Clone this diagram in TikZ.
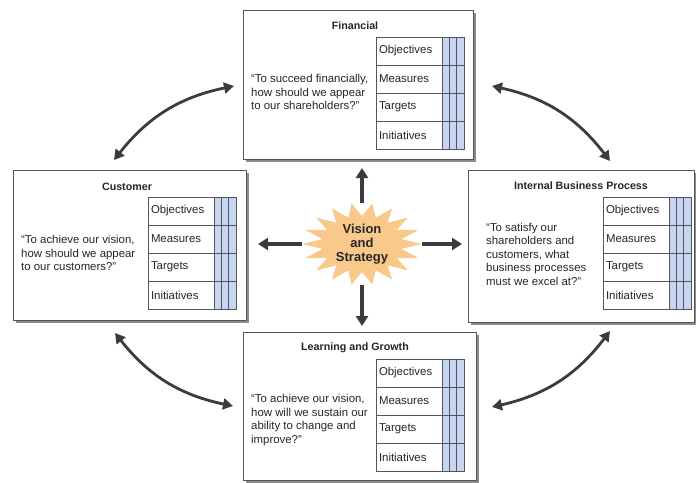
\documentclass[tikz,border=0pt]{standalone}
\usepackage{fontspec}
\setmainfont{Liberation Sans}
\usetikzlibrary{arrows.meta,shadows,calc}

\definecolor{edgegray}{HTML}{555555}
\definecolor{arrowgray}{HTML}{3C3C3C}
\definecolor{cellblue}{HTML}{C6D6F2}
\definecolor{starfill}{HTML}{F9C98C}
\definecolor{inkgray}{HTML}{262626}

\tikzset{
  panel/.style={draw=edgegray, line width=0.8pt, fill=white, inner sep=0pt, outer sep=0pt,
    drop shadow={shadow xshift=2.5pt, shadow yshift=-2.5pt, fill=black!45, opacity=1}},
  paneltitle/.style={font=\bfseries\fontsize{10.7}{12}\selectfont, text=inkgray, inner sep=0pt},
  question/.style={font=\fontsize{11.4}{13.5}\selectfont, text=inkgray, align=left, anchor=west, inner sep=0pt},
  cell/.style={draw=edgegray, line width=0.7pt, anchor=north west, text width=60pt, align=left,
    inner xsep=3pt, inner ysep=0pt, minimum height=28pt, outer sep=0pt,
    font=\fontsize{11.4}{12}\selectfont, text=inkgray},
  spoke/.style={draw=arrowgray, line width=3.6pt, -{Triangle[length=10pt,width=12pt]}},
  link/.style={draw=arrowgray, line width=2.8pt,
    {Triangle[length=10pt,width=11pt]}-{Triangle[length=10pt,width=11pt]}},
}

% Scorecard grid: #1 name prefix, #2 left x, #3 top y
\newcommand\scoregrid[3]{%
  \fill[cellblue] (#2+66,#3) rectangle (#2+88,#3+112);
  \foreach \lab [count=\i from 0] in {Objectives,Measures,Targets,Initiatives}{%
    \node[cell] (#1-\i) at (#2,#3+28*\i) {\lab};
    \draw[edgegray, line width=0.7pt] (#2+66,#3+28*\i) rectangle (#2+88,#3+28*\i+28);
  }
  \foreach \dx in {73.33,80.67}{%
    \draw[edgegray, line width=0.7pt] (#2+\dx,#3) -- (#2+\dx,#3+112);
  }
}

\begin{document}
\begin{tikzpicture}[x=1pt, y=-1pt]
\useasboundingbox (0,0) rectangle (696,482);

% the four perspective panels
\node[panel, minimum width=230pt, minimum height=149pt] (fin)  at (358,84.5) {};
\node[panel, minimum width=233pt, minimum height=150pt] (cust) at (129.5,245) {};
\node[panel, minimum width=226pt, minimum height=152pt] (cint) at (581,246) {};
\node[panel, minimum width=233pt, minimum height=148pt] (lrn)  at (359.5,406) {};

% titles
\node[paneltitle] (fin-title)  at (355,26)  {Financial};
\node[paneltitle] (cust-title) at (127,187) {Customer};
\node[paneltitle] (cint-title) at (581,186) {Internal Business Process};
\node[paneltitle] (lrn-title)  at (355,348) {Learning and Growth};

% guiding questions
\node[question] (fin-q)  at (251,92)  {``To succeed financially,\\how should we appear\\to our shareholders?''};
\node[question] (cust-q) at (21,253)  {``To achieve our vision,\\how should we appear\\to our customers?''};
\node[question] (cint-q) at (486,254) {``To satisfy our\\shareholders and\\customers, what\\business processes\\must we excel at?''};
\node[question] (lrn-q)  at (251,420) {``To achieve our vision,\\how will we sustain our\\ability to change and\\improve?''};

% objective / measure / target / initiative grids
\scoregrid{fing}{376}{37}
\scoregrid{custg}{148}{197}
\scoregrid{cintg}{603}{197}
\scoregrid{lrng}{376}{359}

% central burst
\fill[starfill] plot[samples at={0,10,...,350}]
  ({362+(mod(\x,20)==0 ? 60 : 40)*cos(\x)}, {244+(mod(\x,20)==0 ? 41 : 28)*sin(\x)}) -- cycle;
\node[font=\bfseries\fontsize{13}{14}\selectfont, text=inkgray, align=center,
  minimum width=120pt, minimum height=82pt, inner sep=0pt] (vis) at (362,244) {Vision\\and\\Strategy};

% spokes from the centre
\draw[spoke] (vis.north) -- ($(vis.north |- fin.south)+(0,9)$);
\draw[spoke] (vis.west)  -- ($(vis.west -| cust.east)+(12,0)$);
\draw[spoke] (vis.east)  -- ($(vis.east -| cint.west)+(-6,0)$);
\draw[spoke] (vis.south) -- ($(vis.south |- lrn.north)+(0,-6)$);

% links between neighbouring perspectives
\coordinate (tl1) at ($(fin.west)+(-9,1.5)$);
\coordinate (tl2) at ($(cust.north)+(-15.5,-10)$);
\coordinate (tr1) at ($(fin.east)+(19,1.5)$);
\coordinate (tr2) at ($(cint.north)+(29,-9)$);
\coordinate (bl1) at ($(cust.south)+(-14.5,13)$);
\coordinate (bl2) at ($(lrn.west)+(-10,0)$);
\coordinate (br1) at ($(lrn.east)+(16,1)$);
\coordinate (br2) at ($(cint.south)+(29,9)$);
\draw[link] (tl1) to[bend right=20] (tl2);
\draw[link] (tr1) to[bend left=20]  (tr2);
\draw[link] (bl1) to[bend right=20] (bl2);
\draw[link] (br1) to[bend right=20] (br2);
\end{tikzpicture}
\end{document}
